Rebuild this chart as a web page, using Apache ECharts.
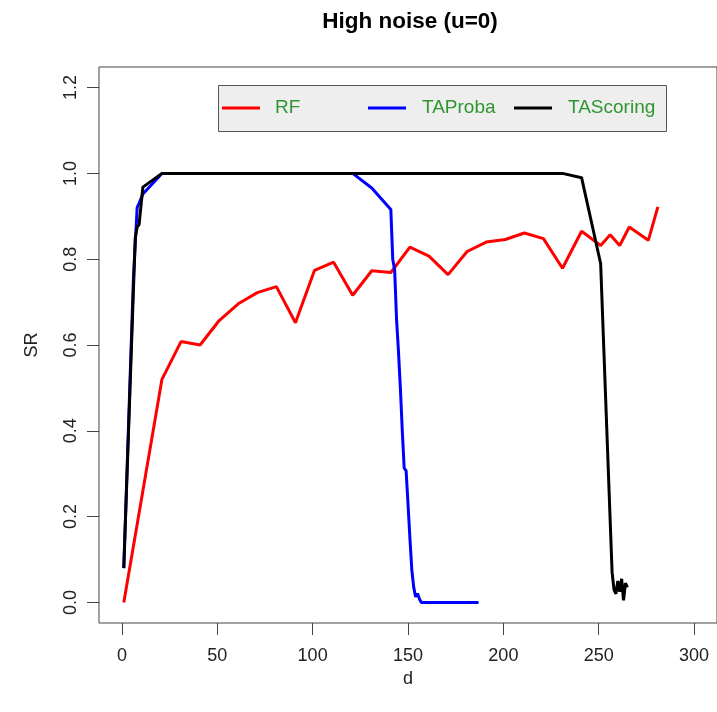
<!DOCTYPE html>
<html>
<head>
<meta charset="utf-8">
<script src="https://cdn.jsdelivr.net/npm/echarts@6/dist/echarts.min.js"></script>
<style>
html,body{margin:0;padding:0;background:#fff;}
#chart{width:717px;height:712px;}
</style>
</head>
<body>
<div id="chart"></div>
<script>
// ---- data ----
var titleText = "High noise (u=0)";
var xName = "d";
var yName = "SR";
var seriesNames = ["RF", "TAProba", "TAScoring"];
var xTicks = [0, 50, 100, 150, 200, 250, 300];
var yTicks = [0, 0.2, 0.4, 0.6, 0.8, 1.0, 1.2];

var dRF = [1, 21, 31, 41, 51, 61, 71, 81, 91, 101, 111, 121, 131, 141, 151, 161, 171, 181, 191, 201, 211, 221, 231, 241, 251, 256, 261, 266, 276, 281];
var srRF = [0, 0.52, 0.608, 0.600, 0.657, 0.696, 0.722, 0.736, 0.652, 0.774, 0.793, 0.716, 0.773, 0.769, 0.828, 0.807, 0.764, 0.818, 0.840, 0.846, 0.861, 0.848, 0.779, 0.865, 0.832, 0.857, 0.832, 0.875, 0.844, 0.922];

var dProba = [1, 6, 8, 9, 11, 21, 31, 41, 51, 61, 71, 81, 91, 101, 111, 121, 131, 141, 142, 143, 144, 145, 146, 147, 148, 149, 150, 151, 152, 153, 154, 155, 156, 157, 161, 171, 181, 187];
var srProba = [0.08, 0.75, 0.92, 0.93, 0.952, 1, 1, 1, 1, 1, 1, 1, 1, 1, 1, 1, 0.966, 0.916, 0.80, 0.775, 0.66, 0.585, 0.50, 0.40, 0.313, 0.307, 0.23, 0.15, 0.076, 0.035, 0.013, 0.021, 0.008, 0, 0, 0, 0, 0];

var dScoring = [1, 7, 8, 9, 11, 21, 31, 41, 51, 61, 71, 81, 91, 101, 111, 121, 131, 141, 151, 161, 171, 181, 191, 201, 211, 221, 231, 241, 251, 252, 253, 254, 255, 256, 257, 258, 259, 260, 261, 262, 263, 264, 265];
var srScoring = [0.08, 0.85, 0.875, 0.88, 0.968, 1, 1, 1, 1, 1, 1, 1, 1, 1, 1, 1, 1, 1, 1, 1, 1, 1, 1, 1, 1, 1, 1, 0.99, 0.79, 0.67, 0.55, 0.43, 0.31, 0.19, 0.07, 0.03, 0.02, 0.05, 0.025, 0.055, 0.005, 0.045, 0.035];

var colors = ["#ff0000", "#0000ff", "#000000"];

function pairs(xs, ys){ return xs.map(function(x,i){ return [x, ys[i]]; }); }

var chart = echarts.init(document.getElementById('chart'), null, {renderer:'canvas'});
var FONT = "Liberation Sans, Arial, Helvetica, sans-serif";
var gridL = 99, gridT = 67, gridW = 624, gridH = 556;

var legendY = 108;
var legendItems = [
  {x1:222, x2:260, tx:275},
  {x1:368, x2:406, tx:422},
  {x1:514, x2:552, tx:568}
];
var graphics = [{
  type:'rect', shape:{x:218.5, y:85.5, width:448, height:46},
  style:{fill:'#eeeeee', stroke:'#555555', lineWidth:1}, z:100
}];
legendItems.forEach(function(it, i){
  graphics.push({type:'line', shape:{x1:it.x1, y1:legendY, x2:it.x2, y2:legendY},
    style:{stroke:colors[i], lineWidth:3}, z:101});
  graphics.push({type:'text', x:it.tx, y:legendY,
    style:{text:seriesNames[i], fill:'#2f962f', font:'19px ' + FONT, textVerticalAlign:'middle', textAlign:'left'}, z:101});
});

var option = {
  backgroundColor:'#ffffff',
  animation:false,
  title:{
    text:titleText, left:405, top:5, textAlign:'center',
    textStyle:{fontFamily:FONT, fontWeight:'bold', fontSize:22.5, color:'#000'}
  },
  grid:{left:gridL, top:gridT, width:gridW, height:gridH, show:true, borderColor:'#444', borderWidth:1, backgroundColor:'transparent'},
  xAxis:{
    type:'value', min:-12, max:312,
    name:xName, nameLocation:'middle', nameGap:44,
    nameTextStyle:{fontFamily:FONT, fontSize:18, color:'#222'},
    axisLine:{show:false, onZero:false},
    splitLine:{show:false},
    axisTick:{show:true, inside:false, length:12, lineStyle:{color:'#444'}, customValues:xTicks},
    axisLabel:{fontFamily:FONT, fontSize:18, color:'#222', margin:24, customValues:xTicks, showMinLabel:true, showMaxLabel:true}
  },
  yAxis:{
    type:'value', min:-0.048, max:1.248,
    name:yName, nameLocation:'middle', nameGap:58, nameRotate:90,
    nameTextStyle:{fontFamily:FONT, fontSize:18, color:'#222'},
    axisLine:{show:false, onZero:false},
    splitLine:{show:false},
    axisTick:{show:true, inside:false, length:12, lineStyle:{color:'#444'}, customValues:yTicks},
    axisLabel:{fontFamily:FONT, fontSize:18, color:'#222', margin:19, rotate:90, align:'center', verticalAlign:'bottom', customValues:yTicks,
      formatter:function(v){ return v.toFixed(1); }}
  },
  series:[
    {name:seriesNames[0], type:'line', data:pairs(dRF, srRF), showSymbol:false, symbol:'none',
      lineStyle:{color:colors[0], width:3}, itemStyle:{color:colors[0]}},
    {name:seriesNames[1], type:'line', data:pairs(dProba, srProba), showSymbol:false, symbol:'none',
      lineStyle:{color:colors[1], width:3}, itemStyle:{color:colors[1]}},
    {name:seriesNames[2], type:'line', data:pairs(dScoring, srScoring), showSymbol:false, symbol:'none',
      lineStyle:{color:colors[2], width:3}, itemStyle:{color:colors[2]}}
  ],
  graphic:graphics
};
chart.setOption(option);
</script>
</body>
</html>
